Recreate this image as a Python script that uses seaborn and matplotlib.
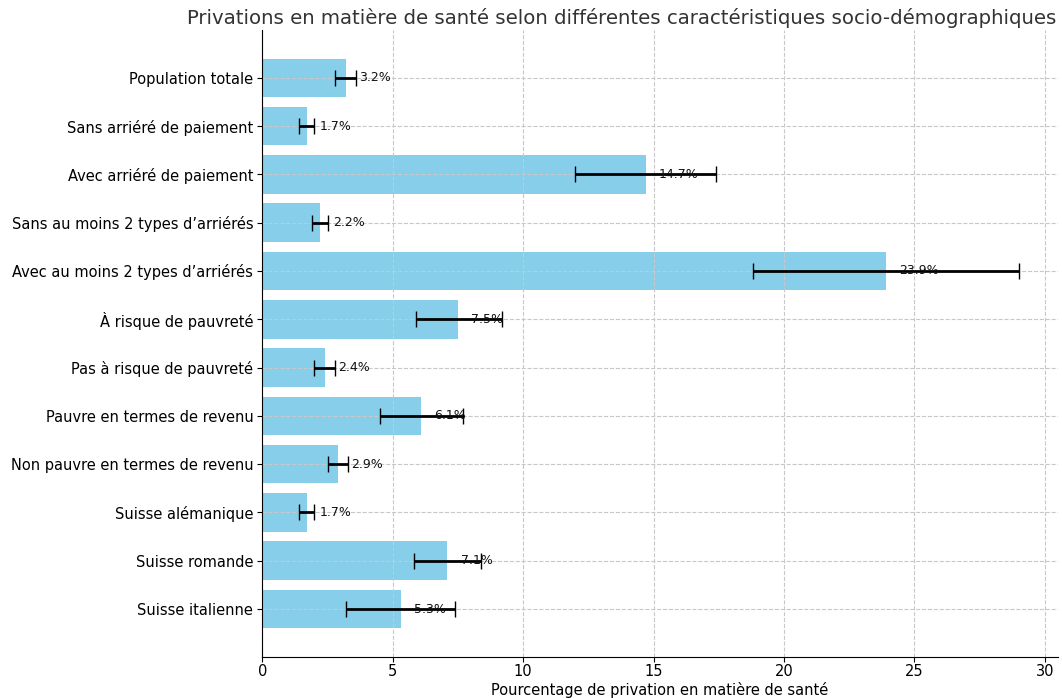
import matplotlib
matplotlib.use('Agg')
import matplotlib.pyplot as plt
import seaborn as sns
import numpy as np

# Dados
categorias = [
    'Population totale',
    'Sans arriéré de paiement',
    'Avec arriéré de paiement',
    "Sans au moins 2 types d’arriérés",
    "Avec au moins 2 types d’arriérés",
    'À risque de pauvreté',
    'Pas à risque de pauvreté',
    'Pauvre en termes de revenu',
    'Non pauvre en termes de revenu',
    'Suisse alémanique',
    'Suisse romande',
    'Suisse italienne',
]
valores = [3.2, 1.7, 14.7, 2.2, 23.9, 7.5, 2.4, 6.1, 2.9, 1.7, 7.1, 5.3]
limite_inf = [2.8, 1.4, 12.0, 1.9, 18.8, 5.9, 2.0, 4.5, 2.5, 1.4, 5.8, 3.2]
limite_sup = [3.6, 2.0, 17.4, 2.5, 29.0, 9.2, 2.8, 7.7, 3.3, 2.0, 8.4, 7.4]

plt.rcParams['font.family'] = ['DejaVu Sans']

fig, ax = plt.subplots(figsize=(10.62, 6.98), dpi=100)
fig.subplots_adjust(left=0.247, right=0.996, top=0.957, bottom=0.059)

sns.barplot(x=valores, y=categorias, color='skyblue', saturation=1,
            orient='h', width=0.8, ax=ax, errorbar=None)

vals = np.array(valores)
xerr = [vals - np.array(limite_inf), np.array(limite_sup) - vals]
ax.errorbar(vals, np.arange(len(vals)), xerr=xerr, fmt='none',
            ecolor='black', elinewidth=2, capsize=6, capthick=1)

for i, v in enumerate(valores):
    ax.text(v + 0.5, i, f'{v}%', va='center', ha='left', fontsize=9, color='#111111')

ax.set_xlim(0, 30.5)
ax.set_ylim(len(valores) - 0.01, -0.99)
ax.set_axisbelow('line')
ax.grid(True, linestyle='--', color='#c8c8c8', linewidth=0.8)
ax.spines['top'].set_visible(False)
ax.spines['right'].set_visible(False)
ax.tick_params(axis='y', labelsize=10.5, pad=3, length=3.5)
ax.tick_params(axis='x', labelsize=10.5, pad=2, length=3.5)
ax.set_xlabel('Pourcentage de privation en matière de santé', fontsize=10.5, labelpad=2)
ax.set_ylabel('')
ax.set_title('Privations en matière de santé selon différentes caractéristiques socio-démographiques',
             fontsize=14.2, x=0.452, pad=4, color='#333333')

plt.savefig('out.png', dpi=100)
plt.close()
